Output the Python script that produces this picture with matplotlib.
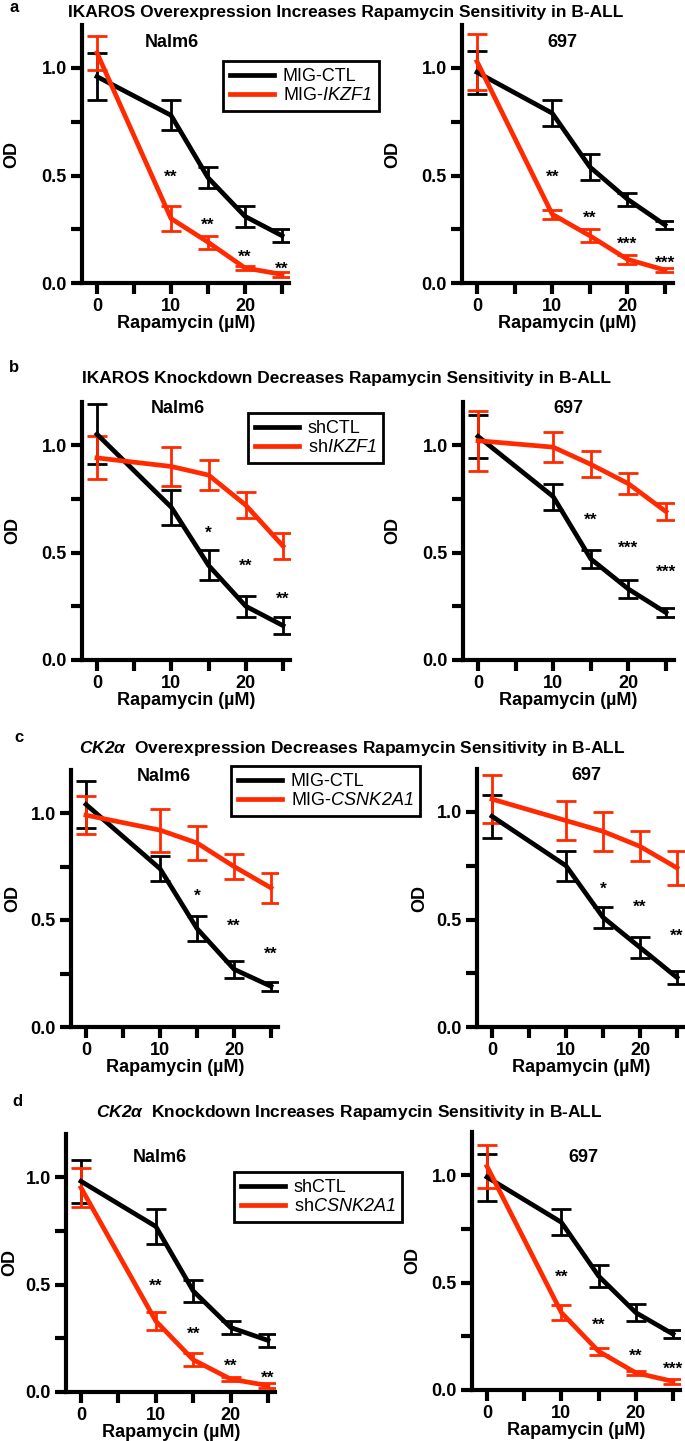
import matplotlib
matplotlib.use("Agg")
import matplotlib.pyplot as plt
from matplotlib.lines import Line2D

plt.rcParams["font.family"] = ["Liberation Sans", "DejaVu Sans"]
plt.rcParams["mathtext.fontset"] = "custom"
plt.rcParams["mathtext.it"] = "Liberation Sans:italic"
plt.rcParams["mathtext.rm"] = "Liberation Sans:italic"
plt.rcParams["mathtext.bf"] = "Liberation Sans:bold:italic"
plt.rcParams["mathtext.bfit"] = "Liberation Sans:bold:italic"

RED = "#FF2A00"
W, H = 685, 1441

# rapamycin dose (uM)
dose = [0, 10, 15, 20, 25]

# a: IKAROS overexpression
a_nalm6_ctl = [0.96, 0.78, 0.49, 0.31, 0.22]
a_nalm6_ctl_err = [0.11, 0.07, 0.05, 0.05, 0.03]
a_nalm6_ikzf1 = [1.07, 0.30, 0.19, 0.07, 0.04]
a_nalm6_ikzf1_err = [0.08, 0.06, 0.03, 0.01, 0.01]
a_nalm6_stars = ["**", "**", "**", "**"]
a_nalm6_star_y = [0.52, 0.30, 0.15, 0.094]

a_697_ctl = [0.98, 0.79, 0.54, 0.39, 0.27]
a_697_ctl_err = [0.10, 0.06, 0.06, 0.03, 0.02]
a_697_ikzf1 = [1.03, 0.32, 0.22, 0.11, 0.06]
a_697_ikzf1_err = [0.13, 0.02, 0.03, 0.02, 0.01]
a_697_stars = ["**", "**", "***", "***"]
a_697_star_y = [0.52, 0.33, 0.21, 0.12]

# b: IKAROS knockdown
b_nalm6_ctl = [1.05, 0.71, 0.44, 0.25, 0.16]
b_nalm6_ctl_err = [0.14, 0.08, 0.07, 0.05, 0.04]
b_nalm6_ikzf1 = [0.94, 0.90, 0.86, 0.72, 0.53]
b_nalm6_ikzf1_err = [0.10, 0.09, 0.07, 0.06, 0.06]
b_nalm6_stars = ["*", "**", "**"]
b_nalm6_star_y = [0.62, 0.465, 0.313]

b_697_ctl = [1.04, 0.76, 0.47, 0.33, 0.22]
b_697_ctl_err = [0.10, 0.06, 0.04, 0.04, 0.02]
b_697_ikzf1 = [1.02, 0.99, 0.91, 0.82, 0.69]
b_697_ikzf1_err = [0.14, 0.07, 0.06, 0.05, 0.04]
b_697_stars = ["**", "***", "***"]
b_697_star_y = [0.68, 0.55, 0.437]

# c: CK2a overexpression
c_nalm6_ctl = [1.04, 0.74, 0.46, 0.27, 0.19]
c_nalm6_ctl_err = [0.11, 0.06, 0.06, 0.04, 0.02]
c_nalm6_csnk = [0.99, 0.92, 0.86, 0.75, 0.65]
c_nalm6_csnk_err = [0.09, 0.10, 0.08, 0.06, 0.07]
c_nalm6_stars = ["*", "**", "**"]
c_nalm6_star_y = [0.64, 0.50, 0.37]

c_697_ctl = [0.98, 0.75, 0.51, 0.37, 0.23]
c_697_ctl_err = [0.10, 0.07, 0.05, 0.05, 0.03]
c_697_csnk = [1.06, 0.96, 0.91, 0.84, 0.74]
c_697_csnk_err = [0.11, 0.09, 0.09, 0.07, 0.08]
c_697_stars = ["*", "**", "**"]
c_697_star_y = [0.67, 0.586, 0.45]

# d: CK2a knockdown
d_nalm6_ctl = [0.98, 0.77, 0.47, 0.30, 0.24]
d_nalm6_ctl_err = [0.10, 0.08, 0.05, 0.03, 0.03]
d_nalm6_csnk = [0.95, 0.33, 0.15, 0.06, 0.03]
d_nalm6_csnk_err = [0.09, 0.04, 0.03, 0.01, 0.013]
d_nalm6_stars = ["**", "**", "**", "**"]
d_nalm6_star_y = [0.52, 0.30, 0.15, 0.094]

d_697_ctl = [0.99, 0.78, 0.53, 0.36, 0.26]
d_697_ctl_err = [0.11, 0.06, 0.05, 0.04, 0.02]
d_697_csnk = [1.04, 0.36, 0.18, 0.08, 0.04]
d_697_csnk_err = [0.10, 0.035, 0.016, 0.01, 0.01]
d_697_stars = ["**", "**", "**", "***"]
d_697_star_y = [0.555, 0.333, 0.186, 0.127]

panels = [
    # pixel anchors: x of dose 0, x of dose 25, y of OD 0, y of OD 1; od_x = centre of "OD"
    dict(px=(97, 282, 283, 68), od_x=12, ctl=a_nalm6_ctl, ctl_err=a_nalm6_ctl_err,
         trt=a_nalm6_ikzf1, trt_err=a_nalm6_ikzf1_err, stars=a_nalm6_stars,
         star_y=a_nalm6_star_y, cell="Nalm6", cell_xy=(10.1, 1.12)),
    dict(px=(477, 665, 283, 68), od_x=393, ctl=a_697_ctl, ctl_err=a_697_ctl_err,
         trt=a_697_ikzf1, trt_err=a_697_ikzf1_err, stars=a_697_stars,
         star_y=a_697_star_y, cell="697", cell_xy=(11.4, 1.12)),
    dict(px=(97, 283, 660, 445), od_x=13, ctl=b_nalm6_ctl, ctl_err=b_nalm6_ctl_err,
         trt=b_nalm6_ikzf1, trt_err=b_nalm6_ikzf1_err, stars=b_nalm6_stars,
         star_y=b_nalm6_star_y, cell="Nalm6", cell_xy=(10.9, 1.17)),
    dict(px=(478, 666, 660, 445), od_x=393, ctl=b_697_ctl, ctl_err=b_697_ctl_err,
         trt=b_697_ikzf1, trt_err=b_697_ikzf1_err, stars=b_697_stars,
         star_y=b_697_star_y, cell="697", cell_xy=(12.0, 1.17)),
    dict(px=(86, 271, 1027, 813), od_x=13, ctl=c_nalm6_ctl, ctl_err=c_nalm6_ctl_err,
         trt=c_nalm6_csnk, trt_err=c_nalm6_csnk_err, stars=c_nalm6_stars,
         star_y=c_nalm6_star_y, cell="Nalm6", cell_xy=(10.5, 1.17)),
    dict(px=(492, 677, 1027, 812), od_x=420, ctl=c_697_ctl, ctl_err=c_697_ctl_err,
         trt=c_697_csnk, trt_err=c_697_csnk_err, stars=c_697_stars,
         star_y=c_697_star_y, cell="697", cell_xy=(12.7, 1.17)),
    dict(px=(81, 268, 1392, 1177), od_x=10, ctl=d_nalm6_ctl, ctl_err=d_nalm6_ctl_err,
         trt=d_nalm6_csnk, trt_err=d_nalm6_csnk_err, stars=d_nalm6_stars,
         star_y=d_nalm6_star_y, cell="Nalm6", cell_xy=(10.6, 1.09)),
    dict(px=(487, 673, 1390, 1175), od_x=413, ctl=d_697_ctl, ctl_err=d_697_ctl_err,
         trt=d_697_csnk, trt_err=d_697_csnk_err, stars=d_697_stars,
         star_y=d_697_star_y, cell="697", cell_xy=(12.9, 1.08)),
]

rows = [
    dict(letter="a", letter_xy=(14, 8),
         title="IKAROS Overexpression Increases Rapamycin Sensitivity in B-ALL",
         title_xy=(346, 12), labels=["MIG-CTL", r"MIG-$\mathit{IKZF1}$"],
         legend_xy=(223, 61)),
    dict(letter="b", letter_xy=(14, 367),
         title="IKAROS Knockdown Decreases Rapamycin Sensitivity in B-ALL",
         title_xy=(347, 379), labels=["shCTL", r"sh$\mathit{IKZF1}$"],
         legend_xy=(248, 413)),
    dict(letter="c", letter_xy=(19, 737),
         title=r"$\mathbfit{CK2\alpha}$  Overexpression Decreases Rapamycin Sensitivity in B-ALL",
         title_xy=(352, 748), labels=["MIG-CTL", r"MIG-$\mathit{CSNK2A1}$"],
         legend_xy=(231, 766)),
    dict(letter="d", letter_xy=(17, 1102),
         title=r"$\mathbfit{CK2\alpha}$  Knockdown Increases Rapamycin Sensitivity in B-ALL",
         title_xy=(349, 1112), labels=["shCTL", r"sh$\mathit{CSNK2A1}$"],
         legend_xy=(234, 1172)),
]

fig = plt.figure(figsize=(W / 100, H / 100), dpi=100)

axes = []
for p in panels:
    x0, x25, y0, y1 = p["px"]
    sx = (x25 - x0) / 25
    sy = y0 - y1
    left = x0 - 2 * sx
    width = 28 * sx
    rect = [left / W, 1 - y0 / H, width / W, 1.2 * sy / H]
    ax = fig.add_axes(rect)
    ax.errorbar(dose, p["ctl"], yerr=p["ctl_err"], color="black", lw=3.4,
                elinewidth=2, capsize=7, capthick=2, zorder=3)
    ax.errorbar(dose, p["trt"], yerr=p["trt_err"], color=RED, lw=3.4,
                elinewidth=2, capsize=7, capthick=2, zorder=3)
    star_x = dose[-len(p["stars"]):]
    for sx_, sy_, s in zip(star_x, p["star_y"], p["stars"]):
        ax.text(sx_, sy_ - 0.03, s, ha="center", va="center", fontsize=12.5,
                fontweight="bold")
    ax.text(*p["cell_xy"], p["cell"], ha="center", va="center",
            fontsize=13, fontweight="bold")
    ax.set_xlim(-2, 26)
    ax.set_ylim(0, 1.2)
    ax.set_xticks([0, 5, 10, 15, 20, 25])
    ax.set_xticklabels(["0", "", "10", "", "20", ""])
    ax.set_yticks([0, 0.25, 0.5, 0.75, 1.0])
    ax.set_yticklabels(["0.0", "", "0.5", "", "1.0"])
    for sp in ["top", "right"]:
        ax.spines[sp].set_visible(False)
    for sp in ["left", "bottom"]:
        ax.spines[sp].set_linewidth(3)
    ax.tick_params(width=3, length=8, labelsize=13, pad=3)
    for lab in ax.get_xticklabels() + ax.get_yticklabels():
        lab.set_fontweight("bold")
    ax.set_xlabel("Rapamycin (\u00b5M)", fontsize=13, fontweight="bold", labelpad=0)
    ax.set_ylabel("OD", fontsize=13, fontweight="bold")
    ax.yaxis.label.set_va("center")
    ax.yaxis.set_label_coords((p["od_x"] - left) / width, 0.5)
    ax.patch.set_alpha(0)
    axes.append(ax)

handles = [Line2D([], [], color="black", lw=3.4), Line2D([], [], color=RED, lw=3.4)]
for i, r in enumerate(rows):
    fig.text(r["letter_xy"][0] / W, 1 - r["letter_xy"][1] / H, r["letter"],
             fontsize=12, fontweight="bold", ha="center", va="center")
    fig.text(r["title_xy"][0] / W, 1 - r["title_xy"][1] / H, r["title"],
             fontsize=12.5, fontweight="bold", ha="center", va="center")
    leg = axes[2 * i].legend(handles, r["labels"], loc="upper left",
                             bbox_to_anchor=(r["legend_xy"][0] / W, 1 - r["legend_xy"][1] / H),
                             bbox_transform=fig.transFigure, borderaxespad=0,
                             fontsize=13, fancybox=False, edgecolor="black",
                             framealpha=1, handlelength=2.4, handletextpad=0.5,
                             labelspacing=0.1, borderpad=0.4)
    leg.get_frame().set_linewidth(2)

fig.savefig("out.png", dpi=100)
